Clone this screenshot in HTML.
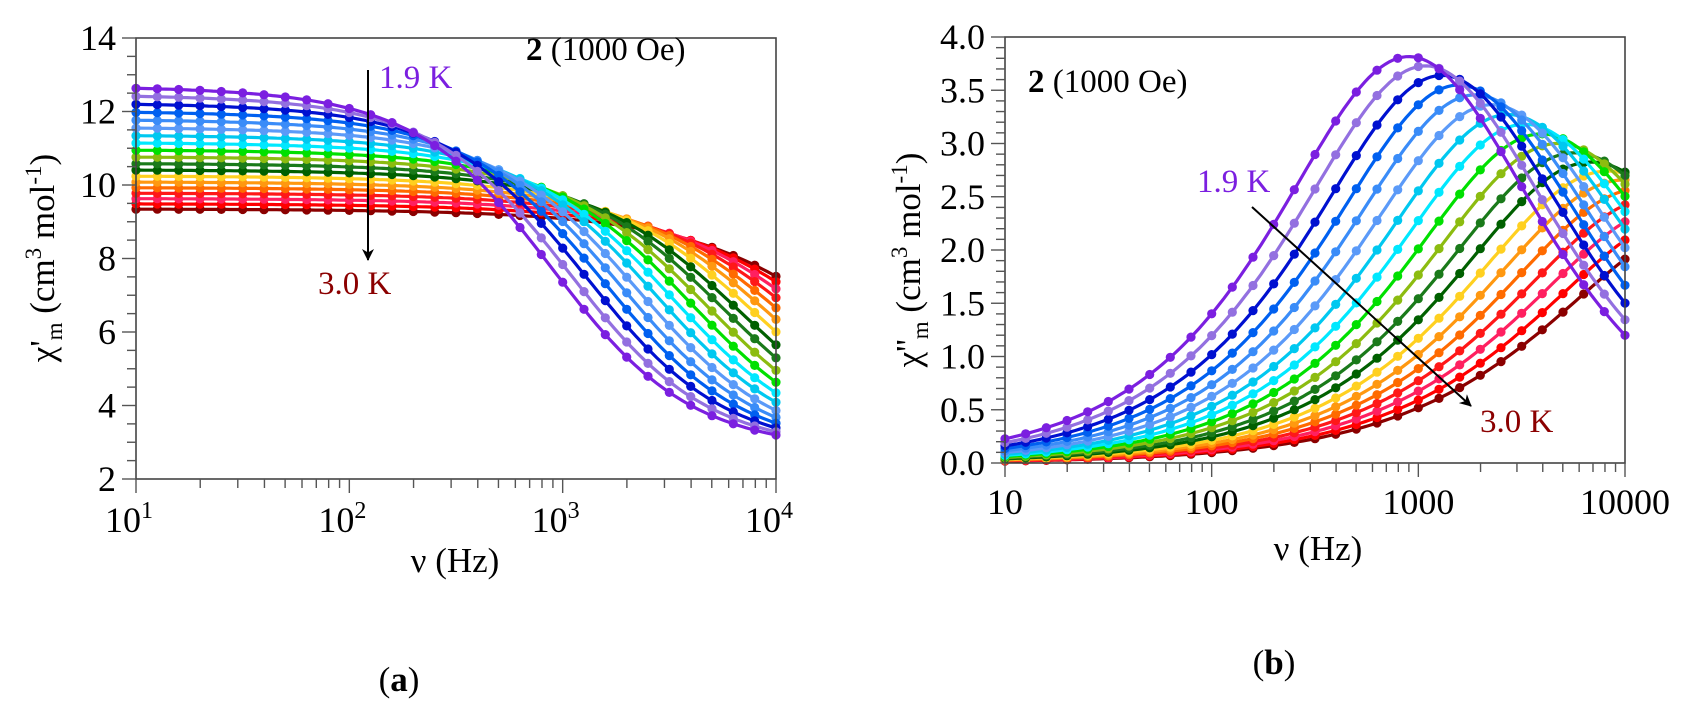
<!DOCTYPE html>
<html><head><meta charset="utf-8">
<style>
html,body{margin:0;padding:0;background:#fff;}
svg{display:block;font-family:"Liberation Serif","DejaVu Serif",serif;}
</style></head>
<body>
<svg id="s" width="1690" height="702" viewBox="0 0 1690 702" xmlns="http://www.w3.org/2000/svg">
<defs>
<marker id="ah" markerWidth="12" markerHeight="12" refX="11" refY="6" orient="auto" markerUnits="userSpaceOnUse"><path d="M0,0 L12,6 L0,12 L3.5,6 z" fill="#000"/></marker>
</defs>
<g id="plots"></g>
<text x="526" y="60" font-size="33" fill="#000"><tspan font-weight="bold">2</tspan> (1000 Oe)</text>
<text x="379" y="88" font-size="33" fill="#7b1fe0">1.9 K</text>
<line x1="368" y1="70" x2="368" y2="260" stroke="#000" stroke-width="2" marker-end="url(#ah)"/>
<text x="318" y="294" font-size="33" fill="#8b0000">3.0 K</text>
<text x="1028" y="92" font-size="33" fill="#000"><tspan font-weight="bold">2</tspan> (1000 Oe)</text>
<text x="1197" y="192" font-size="33" fill="#7b1fe0">1.9 K</text>
<line x1="1252" y1="207" x2="1471" y2="406" stroke="#000" stroke-width="2" marker-end="url(#ah)"/>
<text x="1480" y="432" font-size="33" fill="#8b0000">3.0 K</text>
<text x="455" y="572" font-size="35" text-anchor="middle">ν (Hz)</text>
<text x="1318" y="560" font-size="35" text-anchor="middle">ν (Hz)</text>
<text transform="translate(54,258) rotate(-90)" font-size="35" text-anchor="middle">χ'<tspan font-size="23" dy="8">m</tspan><tspan dy="-8"> (cm</tspan><tspan font-size="23" dy="-13">3</tspan><tspan dy="13"> mol</tspan><tspan font-size="23" dy="-13">-1</tspan><tspan dy="13">)</tspan></text>
<text transform="translate(920,260) rotate(-90)" font-size="35" text-anchor="middle">χ''<tspan font-size="23" dy="8">m</tspan><tspan dy="-8"> (cm</tspan><tspan font-size="23" dy="-13">3</tspan><tspan dy="13"> mol</tspan><tspan font-size="23" dy="-13">-1</tspan><tspan dy="13">)</tspan></text>
<text x="399" y="691" font-size="35" text-anchor="middle">(<tspan font-weight="bold">a</tspan>)</text>
<text x="1274" y="674" font-size="35" text-anchor="middle">(<tspan font-weight="bold">b</tspan>)</text>
</svg>
<script>
(function(){
var NS="http://www.w3.org/2000/svg";
var g=document.getElementById('plots');
function el(n,a,p){var e=document.createElementNS(NS,n);for(var k in a)e.setAttribute(k,a[k]);(p||g).appendChild(e);return e;}
var colors=["#7b1fe0","#9370e0","#0010d0","#0060f0","#3a8cf8","#5b9af8","#00c8f0","#00e8ff","#00e000","#8cbc10","#1a7a1a","#006000","#ffd020","#ff9810","#ff6a00","#ff1818","#ff2060","#ff0000","#8b0000"];
var N=colors.length;
var chiT=[],f0=[],al=[],chiS=[];
for(var i=0;i<N;i++){var t=i/(N-1);
 chiT.push(12.7-3.35*t - 0.25*Math.sin(t*Math.PI));
 f0.push(900*Math.pow(25000/900,t));
 al.push(0.17+0.08*t*t);
 chiS.push(2.6+0.1*(1-t));}
function chi(i,f){var x=Math.pow(f/f0[i],1-al[i]);var s=Math.sin(al[i]*Math.PI/2),c=Math.cos(al[i]*Math.PI/2);
 var d=1+2*x*s+x*x;var D=chiT[i]-chiS[i];
 return [chiS[i]+D*(1+x*s)/d, D*x*c/d];}
function panel(P){
 var X=function(f){return P.x0+(Math.log10(f)-1)*(P.x1-P.x0)/3;};
 var Y=function(v){return P.y1-(v-P.ymin)*(P.y1-P.y0)/(P.ymax-P.ymin);};
 for(var i=N-1;i>=0;i--){
  var d="";for(var k=0;k<=150;k++){var f=Math.pow(10,1+3*k/150);var v=chi(i,f)[P.idx];d+=(k?"L":"M")+X(f).toFixed(1)+","+Y(v).toFixed(1);}
  el("path",{d:d,fill:"none",stroke:colors[i],"stroke-width":3.2});
  for(var k=0;k<=30;k++){var f=Math.pow(10,1+3*k/30);var v=chi(i,f)[P.idx];el("circle",{cx:X(f).toFixed(1),cy:Y(v).toFixed(1),r:4.6,fill:colors[i]});}
 }
 el("rect",{x:P.x0,y:P.y0,width:P.x1-P.x0,height:P.y1-P.y0,fill:"none",stroke:"#444","stroke-width":1.6});
 for(var dcd=1;dcd<=4;dcd++){for(var m=1;m<=9;m++){if(dcd==4&&m>1)break;var f=m*Math.pow(10,dcd);var x=X(f);var L=m==1?14:9;
  el("line",{x1:x,y1:P.y1,x2:x,y2:P.y1+L,stroke:"#555","stroke-width":1.4});}
  var x=X(Math.pow(10,dcd));
  if(P.sup){var t=el("text",{x:x-7,y:P.y1+53,"font-size":36,"text-anchor":"middle"});t.textContent="10";var s=el("tspan",{"font-size":24,dy:-14},t);s.textContent=""+dcd;}
  else{var t=el("text",{x:x,y:P.y1+51,"font-size":36,"text-anchor":"middle"});t.textContent=""+Math.pow(10,dcd);}
 }
 var nmin=Math.round((P.ymax-P.ymin)/P.minor);
 for(var k=0;k<=nmin;k++){var v=P.ymin+k*P.minor;var y=Y(v);var maj=Math.abs((v-P.ymin)/P.major-Math.round((v-P.ymin)/P.major))<1e-6;
  el("line",{x1:P.x0-(maj?14:9),y1:y,x2:P.x0,y2:y,stroke:"#555","stroke-width":1.4});
  if(maj){var t=el("text",{x:P.x0-20,y:y+12,"font-size":36,"text-anchor":"end"});t.textContent=v.toFixed(P.dec);}
 }
}
panel({x0:136,x1:776,y0:38,y1:479,ymin:2,ymax:14,major:2,minor:0.5,dec:0,idx:0,sup:true});
panel({x0:1005,x1:1625,y0:37,y1:463,ymin:0,ymax:4,major:0.5,minor:0.1,dec:1,idx:1,sup:false});
})();
</script>
</body></html>
